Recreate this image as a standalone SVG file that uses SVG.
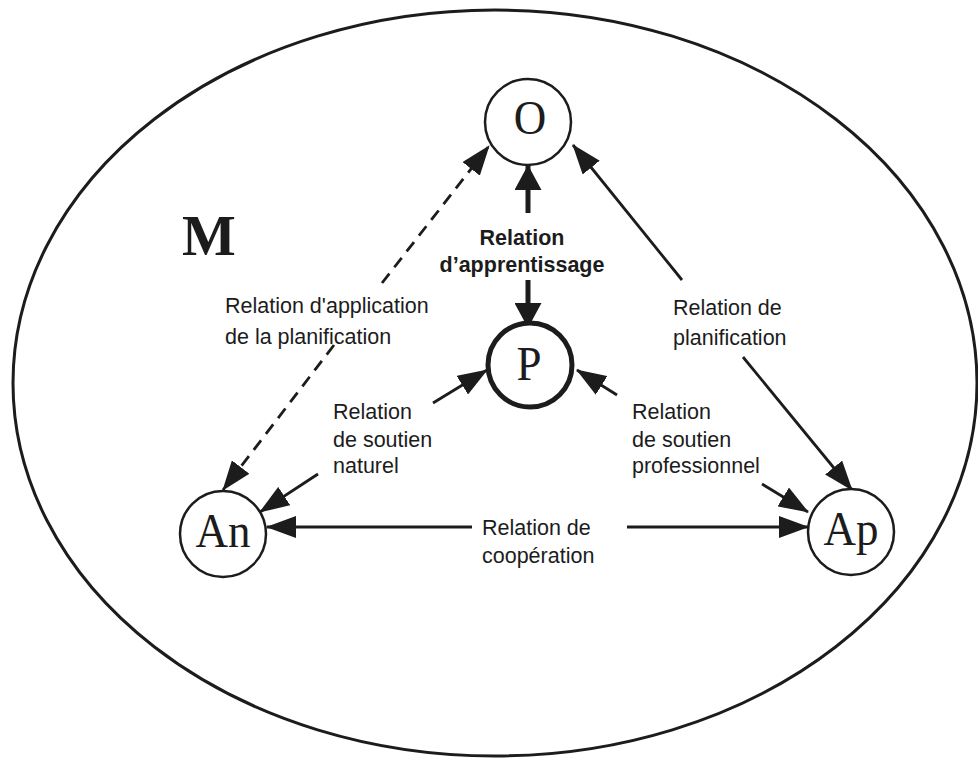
<svg xmlns="http://www.w3.org/2000/svg" width="978" height="758" viewBox="0 0 978 758">
<style>
.lbl{font-family:"Liberation Sans",Arial,sans-serif;font-size:21.5px;fill:#1c1c1c}
.bold{font-weight:bold;text-anchor:middle}
.node circle{fill:#fff;stroke:#1c1c1c;stroke-width:2.5}
.node text{font-family:"Liberation Serif","Times New Roman",serif;font-size:45px;fill:#1c1c1c;text-anchor:middle}
.conn path{fill:none;stroke:#1c1c1c;stroke-width:2.8}
.conn .thick{stroke-width:5}
.conn .dash{stroke-dasharray:12 8}
</style>
<defs>
<marker id="arr" markerUnits="userSpaceOnUse" viewBox="0 0 30 22" markerWidth="30" markerHeight="22" refX="29" refY="11" orient="auto">
<path d="M0,0 L30,11 L0,22 Z" fill="#1c1c1c"/>
</marker>
<marker id="arrT" markerUnits="userSpaceOnUse" viewBox="0 0 25 27" markerWidth="25" markerHeight="27" refX="24" refY="13.5" orient="auto">
<path d="M0,0 L25,13.5 L0,27 Z" fill="#1c1c1c"/>
</marker>
</defs>
<ellipse id="M-env" cx="495" cy="383" rx="482" ry="373" fill="none" stroke="#1c1c1c" stroke-width="3"/>
<text x="182" y="255" style="font-family:'Liberation Serif','Times New Roman',serif;font-size:57px;font-weight:bold;fill:#1c1c1c">M</text>
<g id="connectors" class="conn">
<path class="dash" d="M382,283 L489,146" marker-end="url(#arr)"/>
<path class="dash" d="M334,345 L223,490" marker-end="url(#arr)"/>
<path class="thick" d="M528,213 L528,166" marker-end="url(#arrT)"/>
<path class="thick" d="M528,280 L528,327" marker-end="url(#arrT)"/>
<path d="M682,280 L573,145" marker-end="url(#arr)"/>
<path d="M743,357 L852,490" marker-end="url(#arr)"/>
<path d="M433,403 L487,370" marker-end="url(#arr)"/>
<path d="M318,474 L260,512" marker-end="url(#arr)"/>
<path d="M617,395 L577,370" marker-end="url(#arr)"/>
<path d="M762,484 L808,512" marker-end="url(#arr)"/>
<path d="M472,527 L267,527" marker-end="url(#arr)"/>
<path d="M627,527 L808,527" marker-end="url(#arr)"/>
</g>
<g id="node-O" class="node"><circle cx="528" cy="122" r="43"/><text transform="translate(530,134) scale(1,1.1)">O</text></g>
<g id="node-P" class="node"><circle cx="530" cy="365" r="42" style="stroke-width:5"/><text transform="translate(529,380) scale(1,1.1)">P</text></g>
<g id="node-An" class="node"><circle cx="223" cy="534" r="43"/><text transform="translate(223,547) scale(1,1.1)">An</text></g>
<g id="node-Ap" class="node"><circle cx="851" cy="532" r="43"/><text transform="translate(851,545) scale(1,1.1)">Ap</text></g>
<g id="labels">
<text class="lbl" x="225" y="313">Relation d'application<tspan x="225" y="344">de la planification</tspan></text>
<text class="lbl bold" x="522" y="245">Relation<tspan x="522" y="272">d’apprentissage</tspan></text>
<text class="lbl" x="673" y="315">Relation de<tspan x="673" y="345">planification</tspan></text>
<text class="lbl" x="333" y="419">Relation<tspan x="333" y="447">de soutien</tspan><tspan x="333" y="473">naturel</tspan></text>
<text class="lbl" x="632" y="419">Relation<tspan x="632" y="447">de soutien</tspan><tspan x="632" y="473">professionnel</tspan></text>
<text class="lbl" x="482" y="535">Relation de<tspan x="482" y="563">coopération</tspan></text>
</g>
</svg>
